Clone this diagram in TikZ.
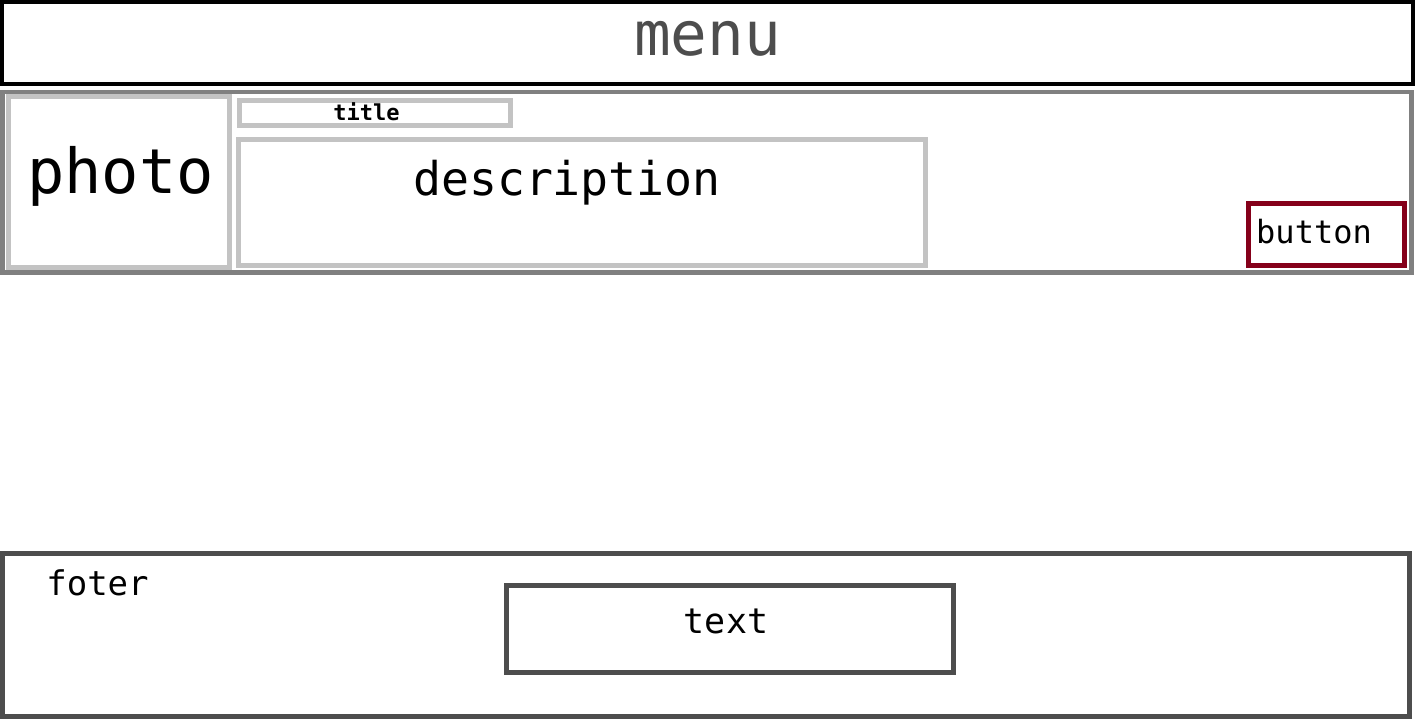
\documentclass[tikz,border=0pt]{standalone}
\usepackage{fontspec}
\setmonofont{DejaVu Sans Mono}
\definecolor{midgray}{HTML}{808080}
\definecolor{lightgray}{HTML}{C3C3C3}
\definecolor{darkgray}{HTML}{4D4D4D}
\definecolor{btnred}{HTML}{85001A}
\tikzset{
  menubox/.style={draw=black, line width=4pt},
  rowbox/.style={draw=midgray, line width=4.5pt},
  itembox/.style={draw=lightgray, line width=5pt},
  btnbox/.style={draw=btnred, line width=5pt},
  footbox/.style={draw=darkgray, line width=5pt},
  lbl/.style={inner sep=0pt, outer sep=0pt, anchor=base, font=\ttfamily},
}
\newcommand{\fsz}[1]{\fontsize{#1}{#1}\selectfont}
\begin{document}
\begin{tikzpicture}[x=1pt,y=-1pt]
\useasboundingbox (0,0) rectangle (1415,720);
\fill[white] (0,0) rectangle (1415,720);
% boxes
\draw[menubox] (2,2) rectangle (1413,84);
\draw[rowbox] (2.5,92) rectangle (1411.5,272.5);
\draw[itembox] (8,96.5) rectangle (229.5,267.5);
\draw[itembox] (239.5,100.5) rectangle (510.5,125.5);
\draw[itembox] (238.5,139) rectangle (925.5,265.5);
\draw[btnbox] (1248.5,203.5) rectangle (1404.5,265.5);
\draw[footbox] (2,553) rectangle (1409.5,716);
\draw[footbox] (506.5,585.5) rectangle (953.5,672);
% labels
\node[lbl, text=darkgray, font=\ttfamily\fsz{61}] (menu) at (707.5,55) {menu};
\node[lbl, font=\ttfamily\fsz{62}] (photo) at (120.5,193) {photo};
\node[lbl, font=\ttfamily\bfseries\fsz{22}] (title) at (366.5,120) {title};
\node[lbl, font=\ttfamily\fsz{46.5}] (desc) at (567,195) {description};
\node[lbl, font=\ttfamily\fsz{32}] (button) at (1314,243) {button};
\node[lbl, font=\ttfamily\fsz{34}] (foter) at (97.5,595) {foter};
\node[lbl, font=\ttfamily\fsz{35}] (text) at (726,633) {text};
\end{tikzpicture}
\end{document}
